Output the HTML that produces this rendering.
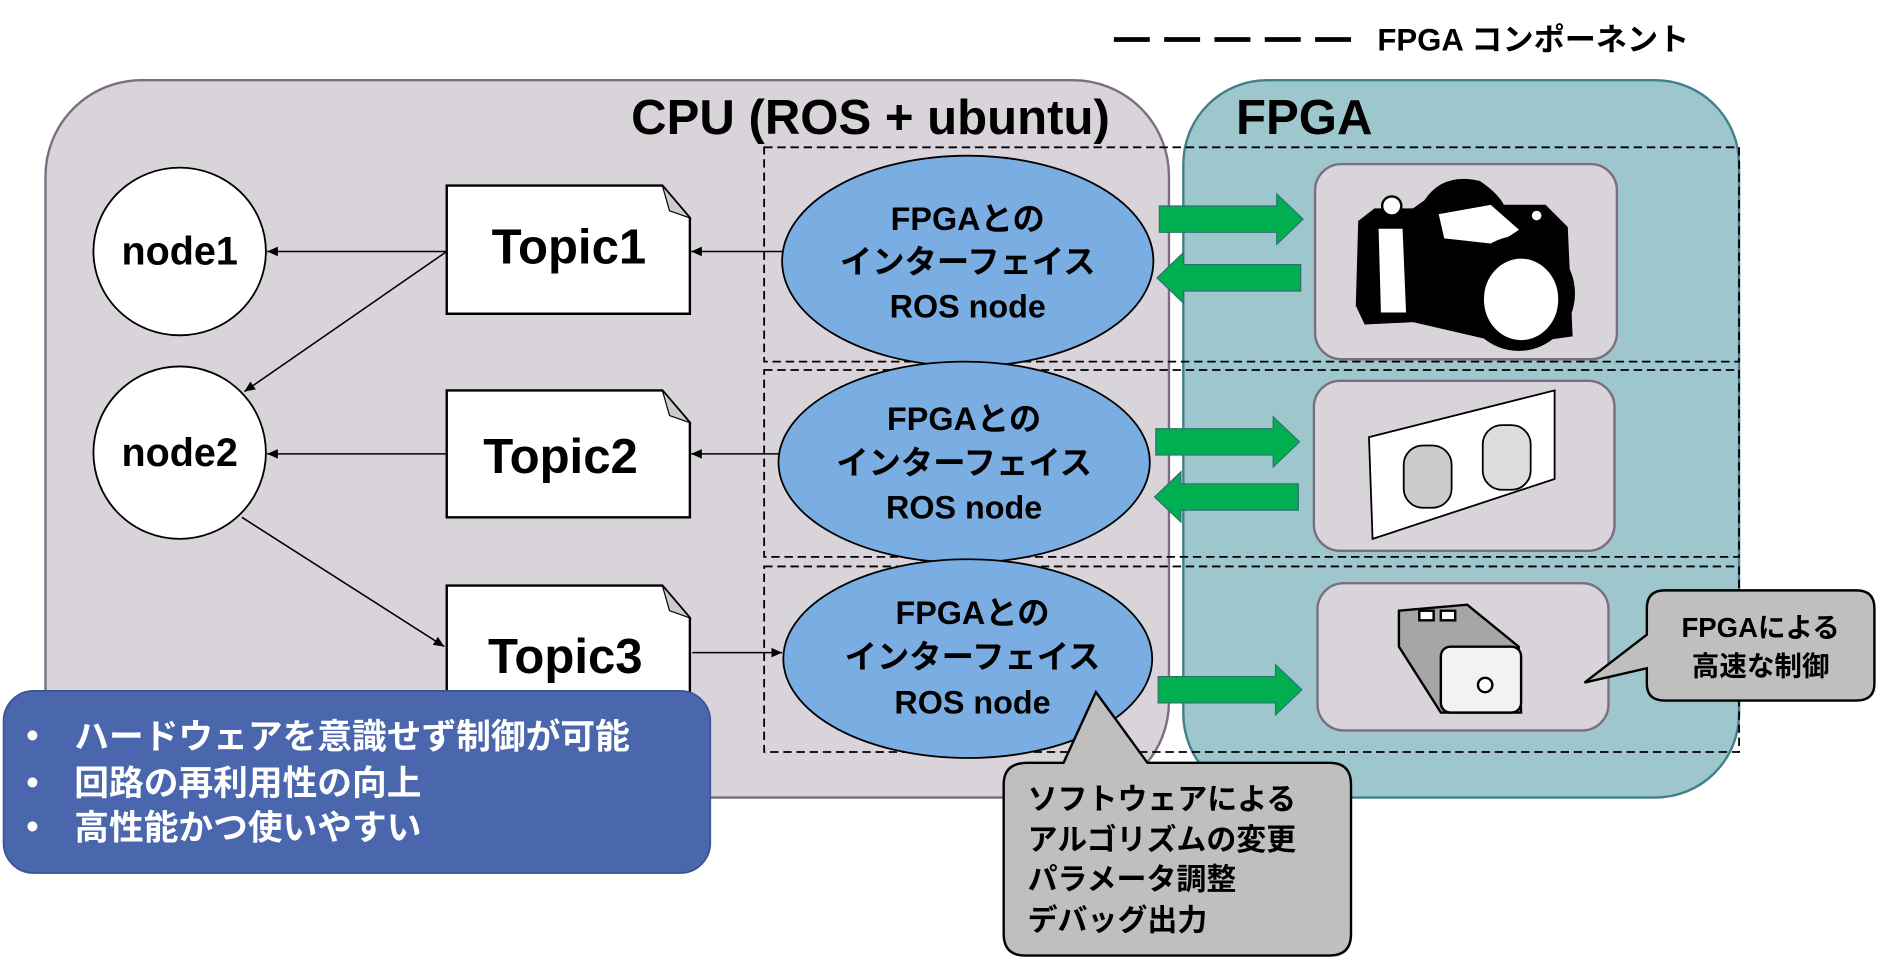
<!DOCTYPE html>
<html><head><meta charset="utf-8"><style>
html,body{margin:0;padding:0;background:#fff;width:1878px;height:958px;overflow:hidden}
svg{display:block}
text{font-family:"Liberation Sans","Noto Sans CJK JP",sans-serif;font-weight:bold}
</style></head><body>
<svg width="1878" height="958" viewBox="0 0 1568 800" preserveAspectRatio="none" xmlns="http://www.w3.org/2000/svg">
<defs>
<marker id="ah" markerWidth="10" markerHeight="10" refX="9" refY="5" orient="auto" markerUnits="userSpaceOnUse"><path d="M0,1 L9,5 L0,9 z" fill="#000"/></marker>
</defs>
<line x1="930" y1="33" x2="1128" y2="33" stroke="#000" stroke-width="4" stroke-dasharray="30,12"/>
<text x="1150" y="42" font-size="26">FPGA コンポーネント</text>
<rect x="38" y="67" width="938" height="599" rx="80" fill="#d9d4da" stroke="#7a6e80" stroke-width="2"/>
<text x="527" y="112" font-size="41">CPU (ROS + ubuntu)</text>
<rect x="988" y="67" width="464" height="599" rx="70" fill="#9dc7cd" stroke="#41808a" stroke-width="2"/>
<text x="1032" y="112" font-size="41">FPGA</text>
<g fill="none" stroke="#000" stroke-width="1.5" stroke-dasharray="7,4">
<rect x="638" y="123" width="814" height="179"/>
<rect x="638" y="309" width="814" height="156"/>
<rect x="638" y="473" width="814" height="155"/>
</g>
<ellipse cx="150" cy="210" rx="72" ry="70" fill="#fff" stroke="#000" stroke-width="1.5"/>
<text x="150" y="221" font-size="33" text-anchor="middle">node1</text>
<ellipse cx="150" cy="378" rx="72" ry="72" fill="#fff" stroke="#000" stroke-width="1.5"/>
<text x="150" y="389" font-size="33" text-anchor="middle">node2</text>
<g fill="#fff" stroke="#000" stroke-width="2">
<path d="M373,155 H553 L576,182 V262 H373 Z"/>
<path d="M373,326 H553 L576,353 V432 H373 Z"/>
<path d="M373,489 H553 L576,516 V600 H373 Z"/>
</g>
<g fill="#ccc" stroke="#000" stroke-width="1">
<path d="M553,155 L576,182 L559,176 Z"/>
<path d="M553,326 L576,353 L559,347 Z"/>
<path d="M553,489 L576,516 L559,510 Z"/>
</g>
<text x="475" y="220" font-size="41" text-anchor="middle">Topic1</text>
<text x="468" y="395" font-size="41" text-anchor="middle">Topic2</text>
<text x="472" y="562" font-size="41" text-anchor="middle">Topic3</text>
<g stroke="#000" stroke-width="1.3" marker-end="url(#ah)">
<line x1="373" y1="210" x2="223" y2="210"/>
<line x1="373" y1="210" x2="204" y2="327"/>
<line x1="373" y1="379" x2="223" y2="379"/>
<line x1="202" y1="432" x2="371" y2="540"/>
<line x1="653" y1="210" x2="577" y2="210"/>
<line x1="650" y1="379" x2="577" y2="379"/>
<line x1="578" y1="545" x2="653" y2="545"/>
</g>
<g fill="#7aaee3" stroke="#000" stroke-width="1.5">
<ellipse cx="808" cy="218" rx="155" ry="88"/>
<ellipse cx="805" cy="386" rx="155" ry="84"/>
<ellipse cx="808" cy="550" rx="154" ry="83"/>
</g>
<g font-size="27" text-anchor="middle">
<text x="808" y="192">FPGAとの</text><text x="808" y="228">インターフェイス</text><text x="808" y="265">ROS node</text>
<text x="805" y="359">FPGAとの</text><text x="805" y="396">インターフェイス</text><text x="805" y="433">ROS node</text>
<text x="812" y="521">FPGAとの</text><text x="812" y="558">インターフェイス</text><text x="812" y="596">ROS node</text>
</g>
<g fill="#00b050" stroke="#2f6f6f" stroke-width="1">
<path d="M968,172 H1066 V162 L1088,183 L1066,204 V194 H968 Z"/>
<path d="M1086,221 H988 V211 L966,232 L988,253 V243 H1086 Z"/>
<path d="M965,358 H1063 V348 L1085,369 L1063,390 V380 H965 Z"/>
<path d="M1084,404 H986 V394 L964,415 L986,436 V426 H1084 Z"/>
<path d="M967,565 H1065 V555 L1087,576 L1065,597 V587 H967 Z"/>
</g>
<g fill="#d9d4da" stroke="#7a6e80" stroke-width="2">
<rect x="1098" y="137" width="252" height="163" rx="22"/>
<rect x="1097" y="318" width="251" height="142" rx="22"/>
<rect x="1100" y="487" width="243" height="123" rx="22"/>
</g>
<!-- camera -->
<g stroke="#000" stroke-width="2">
<path d="M1135,185 L1148,175 H1180 L1190,168 Q1205,145 1235,152 Q1250,162 1255,172 H1290 L1308,190 L1312,280 L1262,287 L1180,268 L1140,270 L1133,255 Z" fill="#000"/>
<path d="M1150,190 H1172 L1175,262 L1152,262 Z" fill="#fff"/>
<path d="M1200,178 L1245,170 L1270,192 L1250,205 L1205,200 Z" fill="#fff"/>
<ellipse cx="1268" cy="245" rx="46" ry="47" fill="#000"/>
<ellipse cx="1270" cy="250" rx="32" ry="35" fill="#fff"/>
<circle cx="1162" cy="172" r="8" fill="#fff"/>
<circle cx="1283" cy="180" r="5" fill="#fff"/>
</g>
<g stroke="#000" stroke-width="1.5">
<path d="M1143,365 L1298,326 V400 L1146,450 Z" fill="#fff"/>
<rect x="1172" y="372" width="40" height="52" rx="16" fill="#ccc"/>
<rect x="1238" y="355" width="40" height="54" rx="16" fill="#ddd"/>
</g>
<g stroke="#000" stroke-width="2">
<path d="M1168,510 L1225,505 L1268,540 L1270,595 L1203,595 L1168,540 Z" fill="#a6a6a6"/>
<rect x="1203" y="540" width="67" height="55" rx="8" fill="#f2f2f2"/>
<rect x="1185" y="510" width="12" height="8" fill="#fff"/>
<rect x="1203" y="510" width="12" height="8" fill="#fff"/>
<circle cx="1240" cy="572" r="6" fill="#fff"/>
</g>
<path d="M1390,493 H1550 Q1565,493 1565,508 V571 Q1565,585 1550,585 H1390 Q1375,585 1375,571 V558 L1323,570 L1375,530 V508 Q1375,493 1390,493 Z" fill="#bfbfbf" stroke="#000" stroke-width="2"/>
<text x="1470" y="532" font-size="23" text-anchor="middle">FPGAによる</text>
<text x="1470" y="564" font-size="23" text-anchor="middle">高速な制御</text>
<path d="M858,637 H888 L915,578 L958,637 H1110 Q1128,637 1128,655 V780 Q1128,798 1110,798 H856 Q838,798 838,780 V655 Q838,637 858,637 Z" fill="#bfbfbf" stroke="#000" stroke-width="2"/>
<g font-size="25">
<text x="858" y="676">ソフトウェアによる</text>
<text x="858" y="710">アルゴリズムの変更</text>
<text x="858" y="743">パラメータ調整</text>
<text x="858" y="777">デバッグ出力</text>
</g>
<rect x="3" y="577" width="590" height="152" rx="25" fill="#4a66ad" stroke="#3b5494" stroke-width="1.5"/>
<g font-size="29" fill="#fff">
<text x="22" y="624">•</text><text x="62" y="625">ハードウェアを意識せず制御が可能</text>
<text x="22" y="663">•</text><text x="62" y="664">回路の再利用性の向上</text>
<text x="22" y="700">•</text><text x="62" y="701">高性能かつ使いやすい</text>
</g>
</svg>
</body></html>
